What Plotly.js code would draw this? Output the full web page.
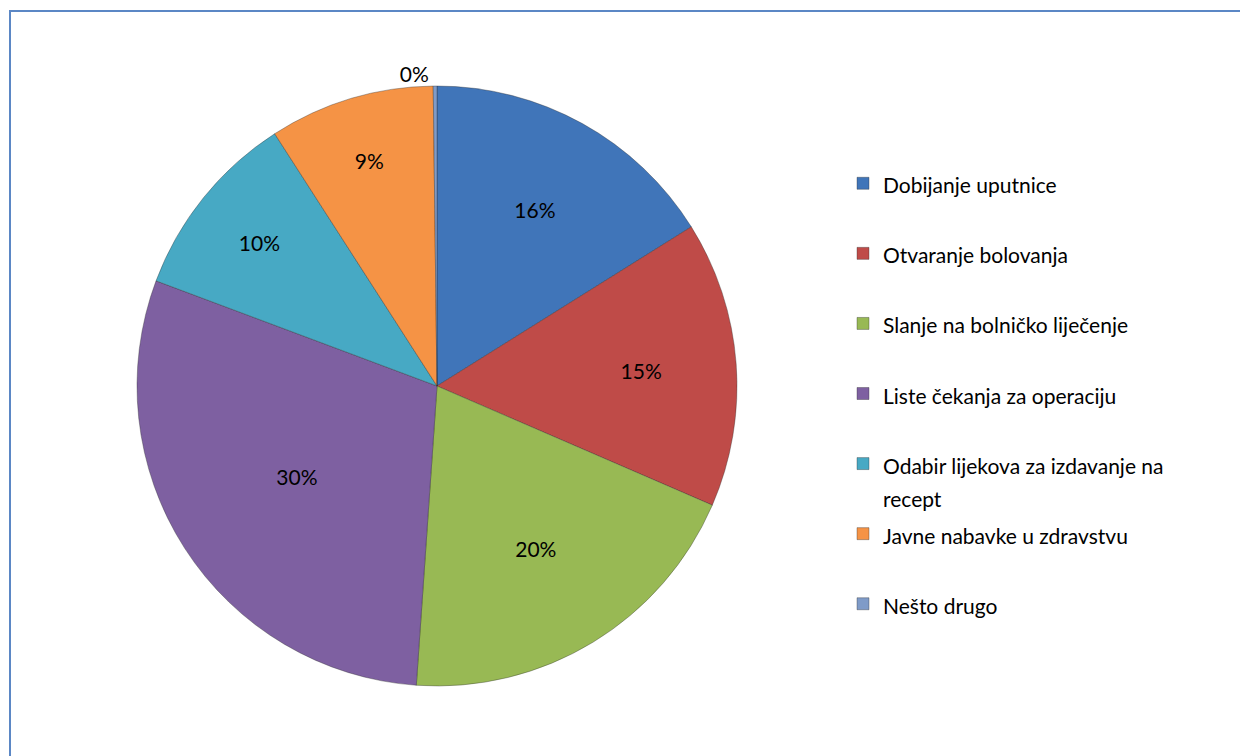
<!DOCTYPE html>
<html>
<head>
<meta charset="utf-8">
<script src="https://cdn.plot.ly/plotly-3.0.1.min.js"></script>
<style>
html,body{margin:0;padding:0;background:#fff;overflow:hidden;}
#chart{width:1240px;height:756px;}
#frame{position:absolute;left:9px;top:10px;width:1300px;height:800px;border:2px solid #5b87c5;pointer-events:none;box-sizing:border-box;}
</style>
</head>
<body>
<div id="chart"></div>
<div id="frame"></div>
<script>
// Data (percent shares, clockwise from 12 o'clock)
var categories = [
  "Dobijanje uputnice",
  "Otvaranje bolovanja",
  "Slanje na bolničko liječenje",
  "Liste čekanja za operaciju",
  "Odabir lijekova za izdavanje na recept",
  "Javne nabavke u zdravstvu",
  "Nešto drugo"
];
var shares = [16.1, 15.4, 19.6, 29.6, 10.2, 8.9, 0.2];
var sliceColors = ["#4075b9", "#bf4b48", "#98b954", "#7e60a1", "#47a9c4", "#f59345", "#7f9bc8"];

// legend display text (wrapping as in the original legend)
var legendText = categories.map(function(c){
  var t = c.replace("izdavanje na recept", "izdavanje na<br>recept");
  var parts = t.split("<br>");
  var styled = parts.map(function(s){return "<span style='font-size:21px'>" + s + "</span>";}).join("<br>");
  return parts.length > 1 ? styled : styled + "<br> ";
});

var FONT = "Lato, 'Liberation Sans', sans-serif";

var trace = {
  type: "pie",
  values: shares,
  labels: legendText,
  sort: false,
  direction: "clockwise",
  rotation: 0,
  marker: {colors: sliceColors, line: {color: "rgba(40,40,40,0.35)", width: 1}},
  texttemplate: "%{percent:.0%}",
  textinfo: "percent",
  textposition: ["inside","inside","inside","inside","inside","inside","outside"],
  insidetextorientation: "horizontal",
  textfont: {family: FONT, size: 21, color: "#000"},
  insidetextfont: {family: FONT, size: 21, color: "#000"},
  outsidetextfont: {family: FONT, size: 21, color: "#000"},
  hoverinfo: "percent",
  domain: {x: [137/1240, 737/1240], y: [70/756, 670/756]}
};

var layout = {
  width: 1240, height: 756,
  margin: {l: 0, r: 0, t: 0, b: 0},
  paper_bgcolor: "#fff",
  showlegend: true,
  legend: {
    x: 843/1240, xanchor: "left",
    y: (756-160)/756, yanchor: "top",
    valign: "top",
    font: {family: FONT, size: 25.8, color: "#000"},
    bgcolor: "rgba(0,0,0,0)"
  },
  font: {family: FONT, color: "#000"}
};

Plotly.newPlot("chart", [trace], layout, {displayModeBar: false, staticPlot: true});
</script>
</body>
</html>
